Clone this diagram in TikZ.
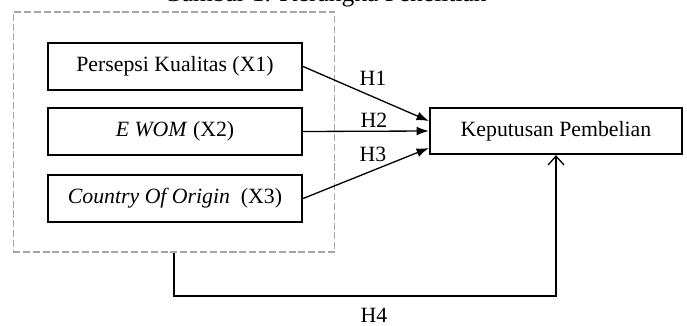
\documentclass[tikz,border=0pt]{standalone}
\usepackage{fontspec}
\setmainfont{Liberation Serif}
\usetikzlibrary{arrows.meta,positioning}

\begin{document}
\begin{tikzpicture}[x=0.02cm,y=-0.02cm,
		varbox/.style={draw,line width=1.3pt,minimum width=5.08cm,minimum height=0.94cm,inner sep=0pt},
		hyparrow/.style={line width=0.75pt,-{Latex[length=7pt,width=5pt]}},
		hyplabel/.style={inner sep=0pt}]
			\useasboundingbox (0,0) rectangle (687,325);
			\fontsize{12.4}{15}\selectfont
			
			\node[anchor=base,font=\fontsize{14.5}{17}\selectfont] (title) at (325,1.5) {Gambar 1. Kerangka Penelitian};
			
			\node[draw=gray!70,dash pattern=on 4pt off 1.6pt,line width=0.6pt,minimum width=6.44cm,minimum height=4.8cm] (grp) at (174,132) {};
			
			\node[varbox] (x1) at (175,66.5) {Persepsi Kualitas (X1)};
			\node[varbox] (x2) at (175,131.5) {\textit{E WOM} (X2)};
			\node[varbox] (x3) at (175,198.5) {\textit{Country Of Origin}\ \ (X3)};
			
			\node[varbox,minimum width=5.04cm,minimum height=0.92cm] (kp) at (556,131) {Keputusan Pembelian};
			
			\draw[hyparrow] (x1.east) -- ([yshift=0.2cm]kp.west);
			\draw[hyparrow] (x2.east) -- (kp.west);
			\draw[hyparrow] (x3.east) -- ([yshift=-0.34cm]kp.west);
			
			\coordinate (h4) at (556,296);
			\draw[line width=0.75pt,-{Straight Barb[length=5pt,width=9pt]}] (grp.south) |- (h4) -- (kp.south);
			
			\node[hyplabel] (h1lab) at (373,78) {H1};
			\node[hyplabel] (h2lab) at (374,120.5) {H2};
			\node[hyplabel] (h3lab) at (373,154) {H3};
			\node[hyplabel] (h4lab) at (374,315) {H4};
			
		\end{tikzpicture}
\end{document}
